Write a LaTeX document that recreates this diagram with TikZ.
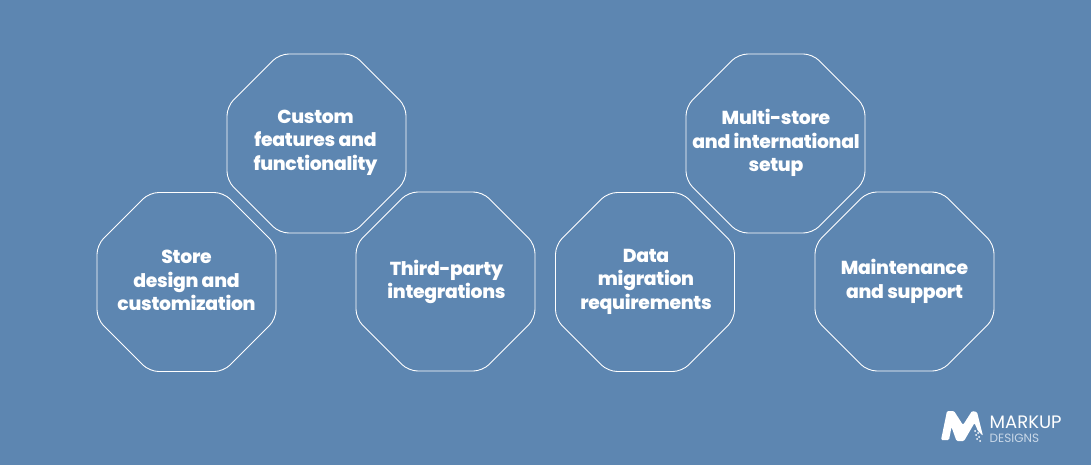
\documentclass[tikz,border=0pt]{standalone}
\usepackage{fontspec}
\setmainfont[BoldFont={Poppins ExtraBold},BoldFeatures={LetterSpace=-1.5}]{Poppins}
\usetikzlibrary{shapes.geometric}
\definecolor{bgblue}{HTML}{5D86B1}
\definecolor{dimtext}{HTML}{C9D8E8}
\tikzset{
  octa/.style={draw=white,line width=0.9pt,regular polygon,regular polygon sides=8,
    minimum size=193.7pt,inner sep=0pt,rounded corners=9pt},
  lbl/.style={text=white,align=center,font=\bfseries\fontsize{18.8}{23.5}\selectfont},
  logotext/.style={anchor=west,inner sep=0pt},
}
\begin{document}
\begin{tikzpicture}[x=1pt,y=-1pt]
\useasboundingbox[fill=bgblue] (0,0) rectangle (1091,465);
\node[octa] (o1) at (186.5,282) {};
\node[octa] (o2) at (316.5,143.5) {};
\node[octa] (o3) at (445.5,281.5) {};
\node[octa] (o4) at (645,282) {};
\node[octa] (o5) at (775.5,143.5) {};
\node[octa] (o6) at (904.5,281.5) {};
\node[lbl] (t1) at (186.5,280.5) {Store\\design and\\customization};
\node[lbl] (t2) at (315.5,142.5) {Custom\\features and\\functionality};
\node[lbl] (t3) at (446.5,282) {Third-party\\integrations};
\node[lbl] (t4) at (646,281.5) {Data\\migration\\requirements};
\node[lbl] (t5) at (776,143) {Multi-store\\and international\\setup};
\node[lbl] (t6) at (904.5,281.5) {Maintenance\\and support};
% logo
\fill[white,rounded corners=1.2pt] (941,440) -- (947,411) -- (954,411) -- (963,425) -- (972,411) -- (977,412) -- (983,436) -- (978,431) -- (974.5,423) -- (964,441) -- (956.5,441) -- (951.5,427) -- (949,440) -- cycle;
\foreach \p in {(975,431),(978,433),(976,435),(979,437),(977,439),(980,441)}
  \fill[white] \p circle (1pt);
\node[logotext,text=white,font=\fontsize{18}{18}\selectfont] (m) at (989.5,422.5) {MARKUP};
\node[logotext,text=dimtext,font=\fontsize{12}{13}\selectfont] (d) at (989.5,438) {DESIGNS};
\end{tikzpicture}
\end{document}
